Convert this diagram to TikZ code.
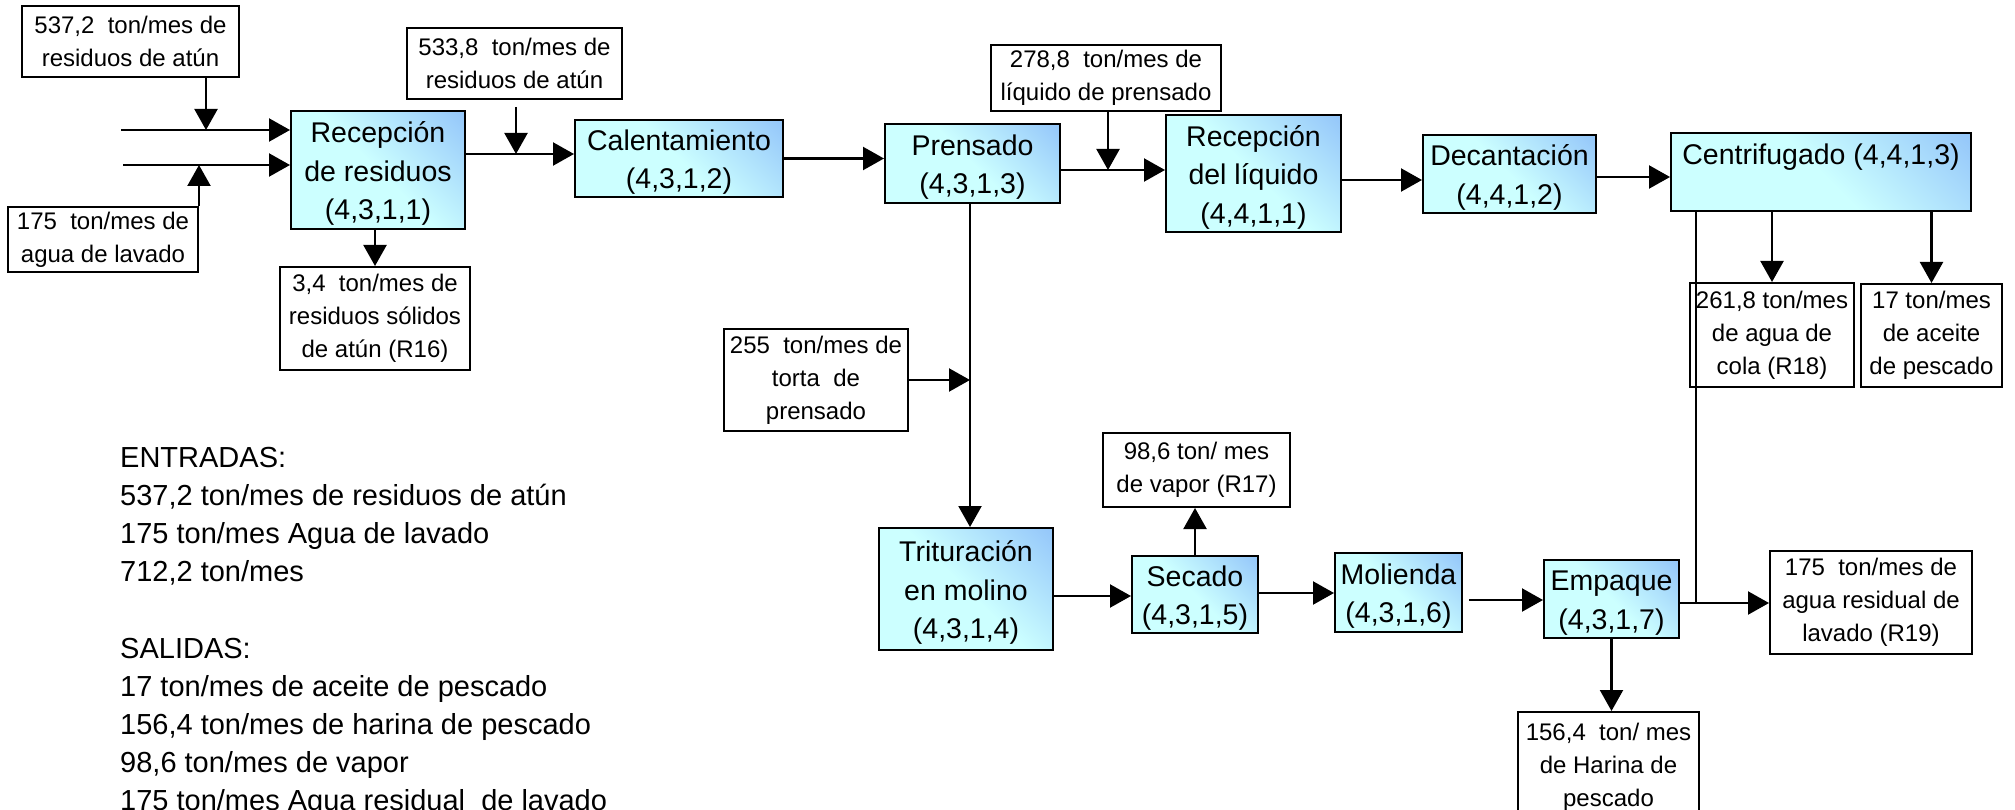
\documentclass[tikz,border=0pt]{standalone}
\usepackage{fontspec}
\setmainfont{Liberation Sans}
\usetikzlibrary{arrows.meta}
\definecolor{pcyan}{RGB}{204,255,255}
\definecolor{pblue}{RGB}{150,200,250}
\pgfdeclareverticalshading{procshade}{100bp}{color(0bp)=(pcyan); color(50bp)=(pcyan); color(84bp)=(pblue); color(100bp)=(pblue)}
\newcommand\firstln{\rule{0pt}{28pt}}
\begin{document}
\begin{tikzpicture}[x=1pt,y=-1pt,
  proc/.style={draw=black, line width=2pt, shade, shading=procshade, shading angle=-45, align=center, inner sep=2pt, font=\fontsize{28.5}{38.5}\selectfont},
  info/.style={draw=black, line width=2pt, fill=white, align=center, inner sep=2pt, font=\fontsize{24}{33}\selectfont},
  sumline/.style={anchor=base west, inner sep=0pt, font=\fontsize{29}{38}\selectfont},
  flow/.style={line width=2.2pt, -{Triangle[length=21pt,width=23pt]}},
  plain/.style={line width=2.2pt},
]
\path[fill=white, use as bounding box] (0,0) rectangle (2015,810);

% nodes
\node[info, minimum width=217pt, minimum height=71pt] (ina) at (130.5,41.5) {537,2~~ton/mes de\\residuos de atún};
\node[info, minimum width=190pt, minimum height=65pt] (inb) at (103,239.5) {175~~ton/mes de\\agua de lavado};
\node[proc, minimum width=174pt, minimum height=118pt] (rec) at (378,170) {\firstln Recepción\\de residuos\\(4,3,1,1)};
\node[info, minimum width=190pt, minimum height=103pt] (r16) at (375,318.5) {3,4~~ton/mes de\\residuos sólidos\\de atún (R16)};
\node[info, minimum width=215pt, minimum height=71pt] (inc) at (514.5,63.5) {533,8~~ton/mes de\\residuos de atún};
\node[proc, minimum width=208pt, minimum height=77pt] (cal) at (679,158.5) {\firstln Calentamiento\\(4,3,1,2)};
\node[proc, minimum width=175pt, minimum height=79pt] (pren) at (972.5,163.5) {\firstln Prensado\\(4,3,1,3)};
\node[info, minimum width=230pt, minimum height=66pt] (liq) at (1106,78) {278,8~~ton/mes de\\líquido de prensado};
\node[proc, minimum width=175pt, minimum height=117pt] (rl) at (1253.5,173.5) {\firstln Recepción\\del líquido\\(4,4,1,1)};
\node[proc, minimum width=173pt, minimum height=78pt] (dec) at (1509.5,174) {\firstln Decantación\\(4,4,1,2)};
\node[proc, minimum width=300pt, minimum height=78pt, text height=21pt, text depth=35pt] (cen) at (1821,172) {Centrifugado (4,4,1,3)};
\node[info, minimum width=164pt, minimum height=104pt] (r18) at (1772,335) {261,8 ton/mes\\de agua de\\cola (R18)};
\node[info, minimum width=141pt, minimum height=103pt] (ace) at (1931.5,335.5) {17 ton/mes\\de aceite\\de pescado};
\node[info, minimum width=184pt, minimum height=102pt] (tor) at (816,380) {255~~ton/mes de\\torta~~de\\prensado};
\node[proc, minimum width=174pt, minimum height=122pt] (tri) at (966,589) {\firstln Trituración\\en molino\\(4,3,1,4)};
\node[proc, minimum width=126pt, minimum height=77pt] (sec) at (1195,594.5) {\firstln Secado\\(4,3,1,5)};
\node[info, minimum width=187pt, minimum height=74pt] (vap) at (1196.5,470) {98,6 ton/ mes\\de vapor (R17)};
\node[proc, minimum width=127pt, minimum height=79pt] (mol) at (1398.5,592.5) {\firstln Molienda\\(4,3,1,6)};
\node[proc, minimum width=135pt, minimum height=78pt] (emp) at (1611.5,599) {\firstln Empaque\\(4,3,1,7)};
\node[info, minimum width=202pt, minimum height=103pt] (r19) at (1871,602.5) {175~~ton/mes de\\agua residual de\\lavado (R19)};
\node[info, minimum width=181pt, minimum height=110pt] (har) at (1608.5,767) {156,4~~ton/ mes\\de Harina de\\pescado};

% junction coordinates
\coordinate (s1) at (121,130);
\coordinate (j1) at (206,130);
\coordinate (s2) at (123,165);
\coordinate (j2) at (199,165);
\coordinate (j3) at (516,154);
\coordinate (j4) at (1108,170);
\coordinate (j5) at (1696,603);
\coordinate (j6) at (970,380);
\coordinate (j7) at (1380,180);
\coordinate (j8) at (1630,177);
\coordinate (j9) at (1090,596);
\coordinate (j10) at (1300,593);
\coordinate (j11) at (1500,600);

% connectors
\draw[flow] (s1) -- (s1 -| rec.west);
\draw[flow] (s2) -- (s2 -| rec.west);
\draw[flow] (ina.south -| j1) -- (j1);
\draw[flow] (inb.north -| j2) -- (j2);
\draw[flow] (rec.south -| r16.north) -- (r16.north);
\draw[flow] (rec.east |- j3) -- (cal.west |- j3);
\draw[flow, shorten <=7pt] (inc.south -| j3) -- (j3);
\draw[flow] (cal.east) -- (cal.east -| pren.west);
\draw[flow] (liq.south -| j4) -- (j4);
\draw[flow] (pren.east |- j4) -- (rl.west |- j4);
\draw[flow] (rl.east |- j7) -- (dec.west |- j7);
\draw[flow] (dec.east |- j8) -- (cen.west |- j8);
\draw[flow] (cen.south -| r18.north) -- (r18.north);
\draw[flow] (cen.south -| ace.north) -- (ace.north);
\draw[plain] (cen.south -| j5) -- (j5);
\draw[flow] (emp.east |- j5) -- (r19.west |- j5);
\draw[flow] (emp.south) -- (emp.south |- har.north);
\draw[flow] (pren.south -| j6) -- (tri.north -| j6);
\draw[flow] (tor.east) -- (j6);
\draw[flow] (tri.east |- j9) -- (sec.west |- j9);
\draw[flow] (sec.north) -- (sec.north |- vap.south);
\draw[flow] (sec.east |- j10) -- (mol.west |- j10);
\draw[flow, shorten <=6pt] (mol.east |- j11) -- (emp.west |- j11);

% summary text
\node[sumline] (t1) at (120,467) {ENTRADAS:};
\node[sumline] (t2) at (120,505.2) {537,2 ton/mes de residuos de atún};
\node[sumline] (t3) at (120,543.4) {175 ton/mes Agua de lavado};
\node[sumline] (t4) at (120,581.6) {712,2 ton/mes};
\node[sumline] (t5) at (120,658) {SALIDAS:};
\node[sumline] (t6) at (120,696.2) {17 ton/mes de aceite de pescado};
\node[sumline] (t7) at (120,734.4) {156,4 ton/mes de harina de pescado};
\node[sumline] (t8) at (120,772.6) {98,6 ton/mes de vapor};
\node[sumline] (t9) at (120,810.8) {175 ton/mes Agua residual~~de lavado};
\end{tikzpicture}
\end{document}
